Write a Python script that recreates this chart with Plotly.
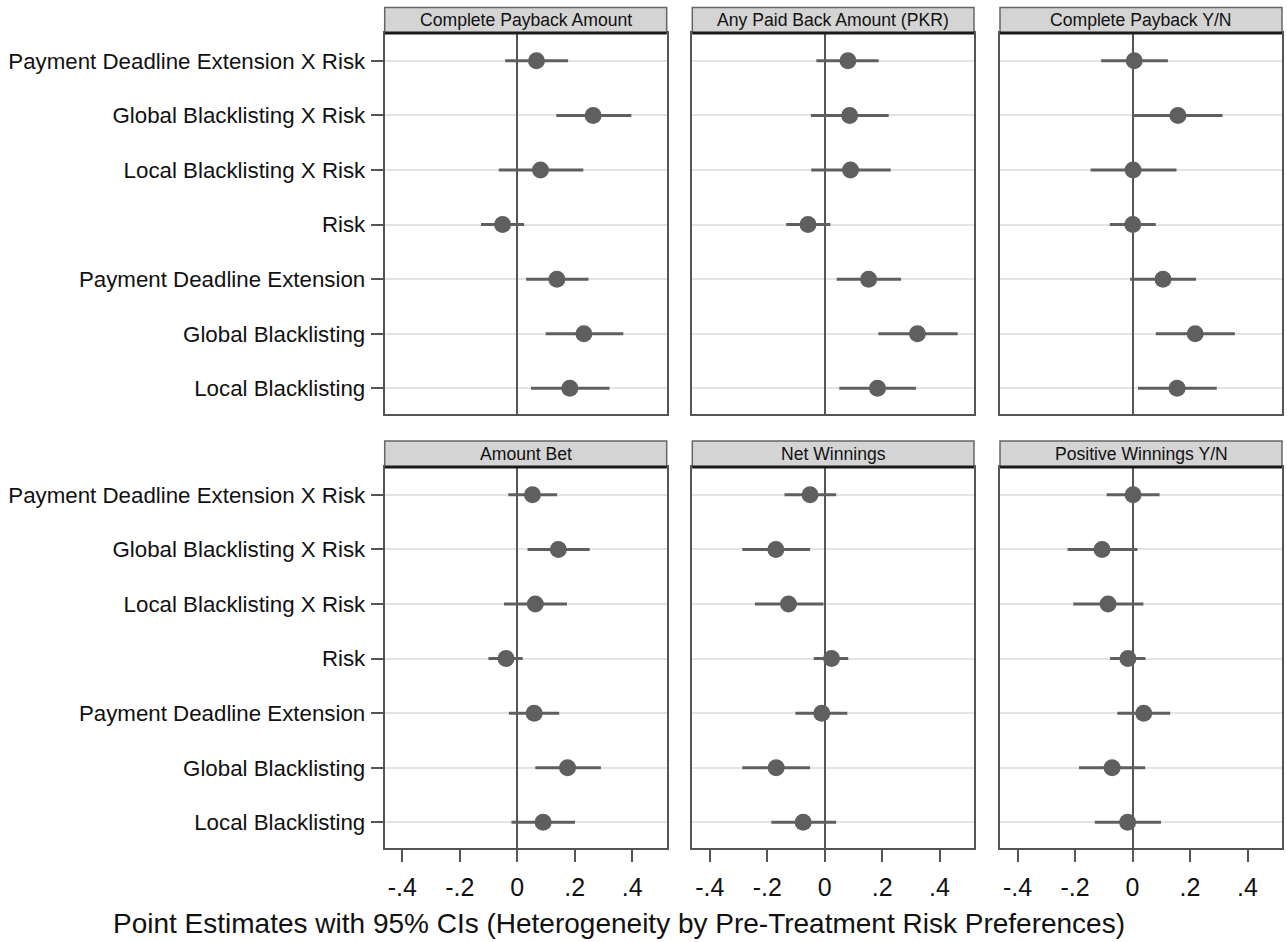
import plotly.graph_objects as go

# Row labels (top to bottom)
terms = [
    "Payment Deadline Extension X Risk",
    "Global Blacklisting X Risk",
    "Local Blacklisting X Risk",
    "Risk",
    "Payment Deadline Extension",
    "Global Blacklisting",
    "Local Blacklisting",
]

panel_titles = [
    "Complete Payback Amount",
    "Any Paid Back Amount (PKR)",
    "Complete Payback Y/N",
    "Amount Bet",
    "Net Winnings",
    "Positive Winnings Y/N",
]

# Point estimates and 95% confidence bounds, one list per outcome
payback_amount_est = [0.067, 0.264, 0.081, -0.051, 0.138, 0.232, 0.183]
payback_amount_lo = [-0.042, 0.136, -0.064, -0.126, 0.031, 0.099, 0.048]
payback_amount_hi = [0.177, 0.397, 0.230, 0.024, 0.248, 0.369, 0.321]

any_paid_est = [0.081, 0.087, 0.090, -0.058, 0.153, 0.323, 0.184]
any_paid_lo = [-0.029, -0.048, -0.047, -0.134, 0.042, 0.187, 0.051]
any_paid_hi = [0.188, 0.223, 0.230, 0.020, 0.266, 0.463, 0.318]

payback_yn_est = [0.006, 0.158, 0.002, 0.001, 0.106, 0.218, 0.155]
payback_yn_lo = [-0.109, 0.001, -0.146, -0.079, -0.008, 0.081, 0.019]
payback_yn_hi = [0.123, 0.313, 0.153, 0.081, 0.221, 0.356, 0.293]

amount_bet_est = [0.053, 0.143, 0.063, -0.039, 0.059, 0.175, 0.090]
amount_bet_lo = [-0.031, 0.036, -0.046, -0.100, -0.029, 0.063, -0.020]
amount_bet_hi = [0.139, 0.252, 0.173, 0.019, 0.146, 0.291, 0.201]

net_win_est = [-0.051, -0.170, -0.126, 0.024, -0.010, -0.169, -0.075]
net_win_lo = [-0.140, -0.287, -0.243, -0.038, -0.102, -0.287, -0.186]
net_win_hi = [0.040, -0.051, -0.004, 0.082, 0.079, -0.051, 0.040]

pos_win_est = [0.002, -0.106, -0.085, -0.016, 0.039, -0.071, -0.017]
pos_win_lo = [-0.090, -0.226, -0.206, -0.078, -0.053, -0.186, -0.131]
pos_win_hi = [0.094, 0.017, 0.038, 0.045, 0.131, 0.044, 0.099]

x_tickvals = [-0.4, -0.2, 0, 0.2, 0.4]
x_ticktext = ["-.4", "-.2", "0", ".2", ".4"]

panels = [
    (payback_amount_est, payback_amount_lo, payback_amount_hi),
    (any_paid_est, any_paid_lo, any_paid_hi),
    (payback_yn_est, payback_yn_lo, payback_yn_hi),
    (amount_bet_est, amount_bet_lo, amount_bet_hi),
    (net_win_est, net_win_lo, net_win_hi),
    (pos_win_est, pos_win_lo, pos_win_hi),
]

W, H = 1287, 942
FONT = "Liberation Sans, Arial, sans-serif"
MARK = "#5f5f5f"
FRAME = "#555555"

# panel boxes in pixels
col_px = [(384.7, 666.7), (692.3, 974.0), (1000.0, 1282.0)]
row_px = [(33.0, 414.0), (467.0, 848.0)]
head_px = [(7.5, 33.0), (441.0, 467.0)]

def px_x(v):
    return v / W

def px_y(v):
    return 1 - v / H

rows_y = list(range(1, len(terms) + 1))

fig = go.Figure()
layout = {}
shapes = []
annotations = []

for i, (est, lo, hi) in enumerate(panels):
    r, c = divmod(i, 3)
    n = i + 1
    xa = "x" if n == 1 else f"x{n}"
    ya = "y" if n == 1 else f"y{n}"
    xkey = "xaxis" if n == 1 else f"xaxis{n}"
    ykey = "yaxis" if n == 1 else f"yaxis{n}"

    seg_x, seg_y = [], []
    for yv, a, b in zip(rows_y, lo, hi):
        seg_x += [a, b, None]
        seg_y += [yv, yv, None]
    fig.add_trace(go.Scatter(x=seg_x, y=seg_y, mode="lines",
                             line=dict(color=MARK, width=3),
                             xaxis=xa, yaxis=ya, showlegend=False,
                             hoverinfo="skip"))
    fig.add_trace(go.Scatter(x=est, y=rows_y, mode="markers",
                             marker=dict(color=MARK, size=17, line=dict(width=0)),
                             xaxis=xa, yaxis=ya, showlegend=False))

    x0, x1 = col_px[c]
    y0, y1 = row_px[r]
    bottom = r == 1
    layout[xkey] = dict(
        domain=[px_x(x0), px_x(x1)], anchor=ya,
        range=[-0.461, 0.520], showgrid=False,
        zeroline=True, zerolinecolor=FRAME, zerolinewidth=2,
        showline=True, linecolor=FRAME, linewidth=2, mirror=True,
        tickvals=x_tickvals, ticktext=x_ticktext,
        showticklabels=bottom, ticks="outside" if bottom else "",
        ticklen=12, tickwidth=2, tickcolor=FRAME,
        tickfont=dict(family=FONT, size=25, color="#111"),
        ticklabelstandoff=4,
    )
    layout[ykey] = dict(
        domain=[px_y(y1), px_y(y0)], anchor=xa,
        range=[7.47, 0.49], showgrid=True, gridcolor="#e4e4e4", gridwidth=2,
        zeroline=False,
        showline=True, linecolor=FRAME, linewidth=2, mirror=True,
        tickvals=rows_y, ticktext=terms,
        showticklabels=(c == 0), ticks="outside" if c == 0 else "",
        ticklen=12, tickwidth=2, tickcolor=FRAME,
        tickfont=dict(family=FONT, size=22.3, color="#111"),
        ticklabelstandoff=1,
    )

    # facet header strip
    hy0, hy1 = head_px[r]
    shapes.append(dict(type="rect", xref="paper", yref="paper",
                       x0=px_x(x0), x1=px_x(x1), y0=px_y(hy1), y1=px_y(hy0),
                       fillcolor="#d4d4d4", line=dict(color="#666666", width=1.5),
                       layer="above"))
    shapes.append(dict(type="line", xref="paper", yref="paper",
                       x0=px_x(x0), x1=px_x(x1), y0=px_y(hy1), y1=px_y(hy1),
                       line=dict(color="#1a1a1a", width=3), layer="above"))
    annotations.append(dict(text=panel_titles[i], xref="paper", yref="paper",
                            x=px_x((x0 + x1) / 2), y=px_y((hy0 + hy1) / 2),
                            xanchor="center", yanchor="middle", showarrow=False,
                            font=dict(family=FONT, size=17.6, color="#111")))

annotations.append(dict(
    text="Point Estimates with 95% CIs (Heterogeneity by Pre-Treatment Risk Preferences)",
    xref="paper", yref="paper", x=px_x(619), y=px_y(923),
    xanchor="center", yanchor="middle", showarrow=False,
    font=dict(family=FONT, size=28, color="#111")))

fig.update_layout(
    width=W, height=H,
    margin=dict(l=0, r=0, t=0, b=0),
    paper_bgcolor="white", plot_bgcolor="white",
    shapes=shapes, annotations=annotations,
    **layout,
)

fig.write_html("out.html")
